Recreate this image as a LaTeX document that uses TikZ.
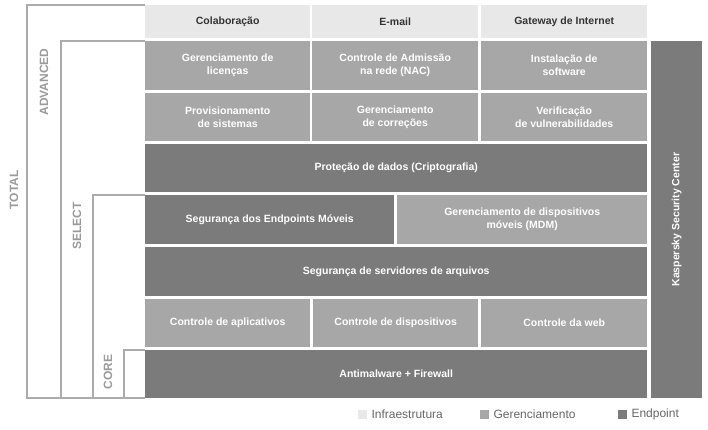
\documentclass[tikz,border=0pt]{standalone}
\usepackage{fontspec}
\setmainfont{Liberation Sans}
\begin{document}
\begin{tikzpicture}[x=1pt,y=-1pt,
  cell/.style={inner sep=1pt,align=center,font=\fontsize{10.5}{13}\selectfont\bfseries,text=white,anchor=north west},
  lt/.style={cell,fill=lightc,text=black!80},
  md/.style={cell,fill=medc},
  dk/.style={cell,fill=darkc},
  br/.style={draw=brc,line width=1.4pt},
  lab/.style={font=\fontsize{12}{14}\selectfont\bfseries,text=labc,rotate=90},
  leg/.style={anchor=west,font=\fontsize{12}{14}\selectfont,text=black!60}]
\definecolor{lightc}{HTML}{E8E8E8}
\definecolor{medc}{HTML}{A7A7A7}
\definecolor{darkc}{HTML}{7B7B7B}
\definecolor{brc}{HTML}{ABABAB}
\definecolor{labc}{HTML}{9A9A9A}
\useasboundingbox (0,0) rectangle (708,429);
% brackets
\draw[br] (145,5) -- (27,5) -- (27,398) -- (145,398);
\draw[br] (145,41) -- (61,41) -- (61,398);
\draw[br] (145,195) -- (93,195) -- (93,398);
\draw[br] (145,350) -- (124,350) -- (124,398);
\node[lab] (ltotal) at (14,190) {TOTAL};
\node[lab] (ladv) at (44,82) {ADVANCED};
\node[lab] (lsel) at (77,226) {SELECT};
\node[lab] (lcore) at (108,372) {CORE};
% header
\node[lt,minimum width=165,minimum height=33] (h1) at (145,5) {Colaboração};
\node[lt,minimum width=166,minimum height=33] (h2) at (312,5) {E-mail};
\node[lt,minimum width=166,minimum height=33] (h3) at (481,5) {Gateway de Internet};
% row 2
\node[md,minimum width=165,minimum height=49] (r21) at (145,41) {Gerenciamento de\\licenças};
\node[md,minimum width=166,minimum height=49] (r22) at (312,41) {Controle de Admissão\\na rede (NAC)};
\node[md,minimum width=166,minimum height=49] (r23) at (481,41) {Instalação de\\software};
% row 3
\node[md,minimum width=165,minimum height=48] (r31) at (145,93) {Provisionamento\\de sistemas};
\node[md,minimum width=166,minimum height=48] (r32) at (312,93) {Gerenciamento\\de correções};
\node[md,minimum width=166,minimum height=48] (r33) at (481,93) {Verificação\\de vulnerabilidades};
% rows
\node[dk,minimum width=502,minimum height=48] (prot) at (145,144) {Proteção de dados (Criptografia)};
\node[dk,minimum width=249,minimum height=49] (mob) at (145,195) {Segurança dos Endpoints Móveis};
\node[md,minimum width=250,minimum height=49] (mdm) at (397,195) {Gerenciamento de dispositivos\\móveis (MDM)};
\node[dk,minimum width=502,minimum height=49] (srv) at (145,247) {Segurança de servidores de arquivos};
\node[md,minimum width=165,minimum height=48] (c1) at (145,299) {Controle de aplicativos};
\node[md,minimum width=165,minimum height=48] (c2) at (313,299) {Controle de dispositivos};
\node[md,minimum width=166,minimum height=48] (c3) at (481,299) {Controle da web};
\node[dk,minimum width=502,minimum height=48] (anti) at (145,350) {Antimalware + Firewall};
% kaspersky
\node[dk,minimum width=51,minimum height=357] (ksc) at (651,41) {};
\node[font=\fontsize{10.5}{13}\selectfont\bfseries,text=white,rotate=90] (kt) at (ksc.center) {Kaspersky Security Center};
% legend
\node[fill=lightc,minimum size=9,inner sep=0] (q1) at (362,414) {};
\node[leg] (t1) at (368,414) {Infraestrutura};
\node[fill=medc,minimum size=9,inner sep=0] (q2) at (484,414) {};
\node[leg] (t2) at (490,414) {Gerenciamento};
\node[fill=darkc,minimum size=9,inner sep=0] (q3) at (622,414) {};
\node[leg] (t3) at (628,414) {Endpoint};
\end{tikzpicture}
\end{document}
